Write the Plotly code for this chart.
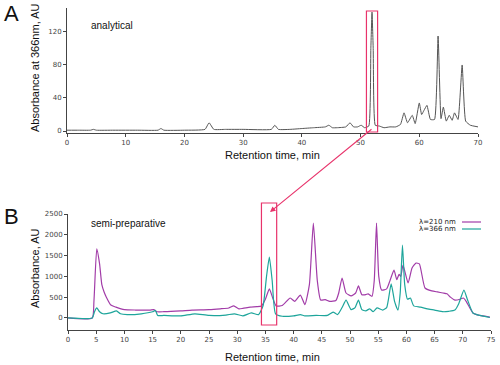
import plotly.graph_objects as go

# ---------------- data ----------------
# Panel A: analytical chromatogram (absorbance at 366 nm)
a_time = [0, 2, 4, 4.5, 5, 8, 12, 15.5, 16, 16.5, 20, 23.5, 24.2, 25, 27, 30,
          34.8, 35.4, 36, 38, 40, 42, 44, 44.6, 45.2, 46, 47.5, 48.2, 48.8, 49.5,
          50.1, 50.7, 51.4, 51.75, 51.95, 52.15, 52.5, 53.2, 54, 55, 56, 56.8,
          57.4, 58.0, 58.8, 59.3, 60.0, 60.4, 60.8, 61.3, 61.9, 62.6, 63.2, 63.7,
          64.1, 64.6, 65.1, 65.6, 66.0, 66.6, 67.3, 67.9, 68.7, 70]
a_abs = [1, 1, 1, 2, 1, 1, 1, 1, 3, 1, 1, 2, 10, 2, 2, 2,
         2, 7, 2, 2, 3, 4, 5, 7, 4, 4, 5, 10, 5, 5,
         7, 4, 6, 100, 144, 100, 7, 6, 4, 5, 5, 8,
         22, 10, 19, 9, 34, 20, 25, 31, 14, 14, 115, 15,
         29, 12, 19, 13, 22, 14, 80, 12, 7, 5]

# Panel B: semi-preparative chromatogram
b_time_210 = [0, 4.3, 4.6, 5.1, 5.6, 6.0, 6.4, 6.8, 7.6, 8.5, 10, 12, 14.5, 15.2,
              15.8, 17, 20, 22, 25, 27, 28.5, 29.4, 30.3, 31, 32.3, 33.5, 34.3,
              35.0, 35.7, 36.3, 36.9, 38, 39.4, 40.2, 41.2, 42.0, 42.8, 43.5, 44.2,
              44.8, 45.6, 46.4, 47.5, 48.0, 48.6, 49.3, 50.2, 51.0, 51.5, 52.1, 52.8,
              53.2, 53.9, 54.3, 54.7, 55.1, 55.6, 56.5, 57.1, 57.8, 58.3, 58.7, 59.0,
              59.4, 60.3, 61.0, 61.7, 62.3, 63.3, 64.5, 65.5, 66.5, 67.2, 67.8, 68.6,
              69.5, 70.1, 70.6, 71.8, 73, 74.8]
b_abs_210 = [0, 0, 400, 1660, 1300, 800, 625, 500, 310, 260, 200, 190, 190, 200,
             150, 150, 170, 190, 200, 220, 240, 290, 220, 230, 260, 270, 290,
             450, 700, 480, 290, 300, 480, 400, 550, 320, 800, 2280, 900,
             430, 440, 400, 420, 600, 960, 600, 530, 600, 770, 560, 560,
             580, 520, 900, 2280, 1000, 670, 700, 900, 1150, 920, 1050, 1000,
             1270, 840, 1200, 1320, 1300, 720, 650, 625, 600, 580, 500, 430,
             450, 480, 400, 120, 60, 20]

b_time_366 = [0, 4.3, 4.7, 5.1, 5.6, 6.2, 7.5, 8.6, 9.3, 10.5, 13, 15.0, 15.5, 15.9,
              17, 20, 22.5, 25, 28, 29.5, 31, 32.5, 33.8, 34.6, 35.2, 35.7, 36.2,
              36.8, 38, 40, 41.2, 42, 44, 46, 47, 47.8, 48.6, 49.3, 50.2, 50.9, 51.5,
              52.1, 52.8, 53.5, 54.1, 54.8, 55.8, 56.5, 57.3, 57.9, 58.5, 58.9, 59.3,
              59.7, 60.2, 60.7, 61.3, 62.5, 64, 65, 66.5, 67.5, 68.6, 69.3, 70.2,
              70.8, 71.8, 73, 74.8]
b_abs_366 = [0, 0, 150, 240, 150, 100, 120, 170, 100, 80, 100, 150, 180, 60,
             60, 50, 100, 60, 70, 100, 50, 120, 80, 300, 1000, 1465, 900,
             100, 40, 50, 80, 50, 60, 60, 140, 80, 250, 430, 200, 250, 430,
             200, 170, 220, 150, 240, 190, 250, 820, 400, 190, 600, 1750,
             800, 450, 480, 290, 260, 210, 190, 150, 160, 190, 350, 670,
             450, 120, 60, 10]

a_xticks = [0, 10, 20, 30, 40, 50, 60, 70]
a_yticks = [0, 40, 80, 120]
b_xticks = list(range(0, 80, 5))
b_yticks = [0, 500, 1000, 1500, 2000, 2500]

# ---------------- style ----------------
W, H = 500, 365
GRAY = "#555555"
PURPLE = "#a23ca8"
TEAL = "#1ea59b"
RED = "#e8336b"

def px(x):
    return x / W

def py(y):
    return (H - y) / H

fig = go.Figure()
fig.add_trace(go.Scatter(x=a_time, y=a_abs, mode="lines", xaxis="x", yaxis="y",
                         line=dict(color=GRAY, width=1, shape="spline", smoothing=0.4),
                         showlegend=False))
fig.add_trace(go.Scatter(x=b_time_210, y=b_abs_210, mode="lines", xaxis="x2", yaxis="y2",
                         line=dict(color=PURPLE, width=1.2, shape="spline", smoothing=0.5),
                         showlegend=False))
fig.add_trace(go.Scatter(x=b_time_366, y=b_abs_366, mode="lines", xaxis="x2", yaxis="y2",
                         line=dict(color=TEAL, width=1.2, shape="spline", smoothing=0.5),
                         showlegend=False))

axis_common = dict(showline=True, linecolor="#444", linewidth=1, ticks="outside",
                   ticklen=3, tickcolor="#444", tickwidth=1, showgrid=False,
                   zeroline=False, automargin=False,
                   tickfont=dict(family="DejaVu Sans", size=7, color="#444"))

fig.update_layout(
    width=W, height=H, margin=dict(l=0, r=0, t=0, b=0, pad=0), autosize=False,
    paper_bgcolor="white", plot_bgcolor="white", showlegend=False,
    font=dict(family="Liberation Sans", color="#111"),
    xaxis=dict(domain=[px(67), px(478)], range=[0, 70], anchor="y",
               tickvals=a_xticks, **axis_common),
    yaxis=dict(domain=[py(133), py(8)], range=[-2.4, 149], anchor="x",
               tickvals=a_yticks, **axis_common),
    xaxis2=dict(domain=[px(68), px(491)], range=[0, 75], anchor="y2",
                tickvals=b_xticks, **axis_common),
    yaxis2=dict(domain=[py(330), py(214)], range=[-290, 2500], anchor="x2",
                tickvals=b_yticks, **axis_common),
)

ann = []
def text(x, y, s, size, xanchor="center", **kw):
    d = dict(x=px(x), y=py(y), xref="paper", yref="paper", text=s, showarrow=False,
             xanchor=xanchor, yanchor="middle",
             font=dict(size=size, family="Liberation Sans", color="#111"))
    d.update(kw)
    ann.append(d)

text(11, 14, "A", 22)
text(11, 216, "B", 22)
text(89, 25, "analytical", 10, xanchor="left")
text(89, 223, "semi-preparative", 10, xanchor="left")
text(35, 68, "Absorbance at 366nm, AU", 11, textangle=-90)
text(35, 268, "Absorbance, AU", 11, textangle=-90)
text(272, 155, "Retention time, min", 11)
text(272, 357, "Retention time, min", 11)
text(458, 222, "λ=210 nm", 7, xanchor="right",
     font=dict(size=7, family="DejaVu Sans", color="#222"))
text(458, 229, "λ=366 nm", 7, xanchor="right",
     font=dict(size=7, family="DejaVu Sans", color="#222"))

# arrow from rect A to rect B
ann.append(dict(x=px(270), y=py(212), xref="paper", yref="paper",
                ax=103, ay=-84, axref="pixel", ayref="pixel", text="",
                showarrow=True, arrowhead=2, arrowsize=1, arrowwidth=1.1,
                arrowcolor=RED))
fig.update_layout(annotations=ann)

shapes = [
    dict(type="rect", xref="x", yref="paper", x0=51.0, x1=52.9, y0=py(132), y1=py(11),
         line=dict(color=RED, width=1.2)),
    dict(type="rect", xref="x2", yref="paper", x0=34.3, x1=37.0, y0=py(325), y1=py(203),
         line=dict(color=RED, width=1.2)),
    dict(type="line", xref="paper", yref="paper", x0=px(462), x1=px(481),
         y0=py(222), y1=py(222), line=dict(color=PURPLE, width=1.2)),
    dict(type="line", xref="paper", yref="paper", x0=px(462), x1=px(481),
         y0=py(229), y1=py(229), line=dict(color=TEAL, width=1.2)),
]
fig.update_layout(shapes=shapes)

fig.write_html("out.html", config={"displayModeBar": False, "staticPlot": True},
               post_script="document.body.style.margin='0';document.body.style.overflow='hidden';")
